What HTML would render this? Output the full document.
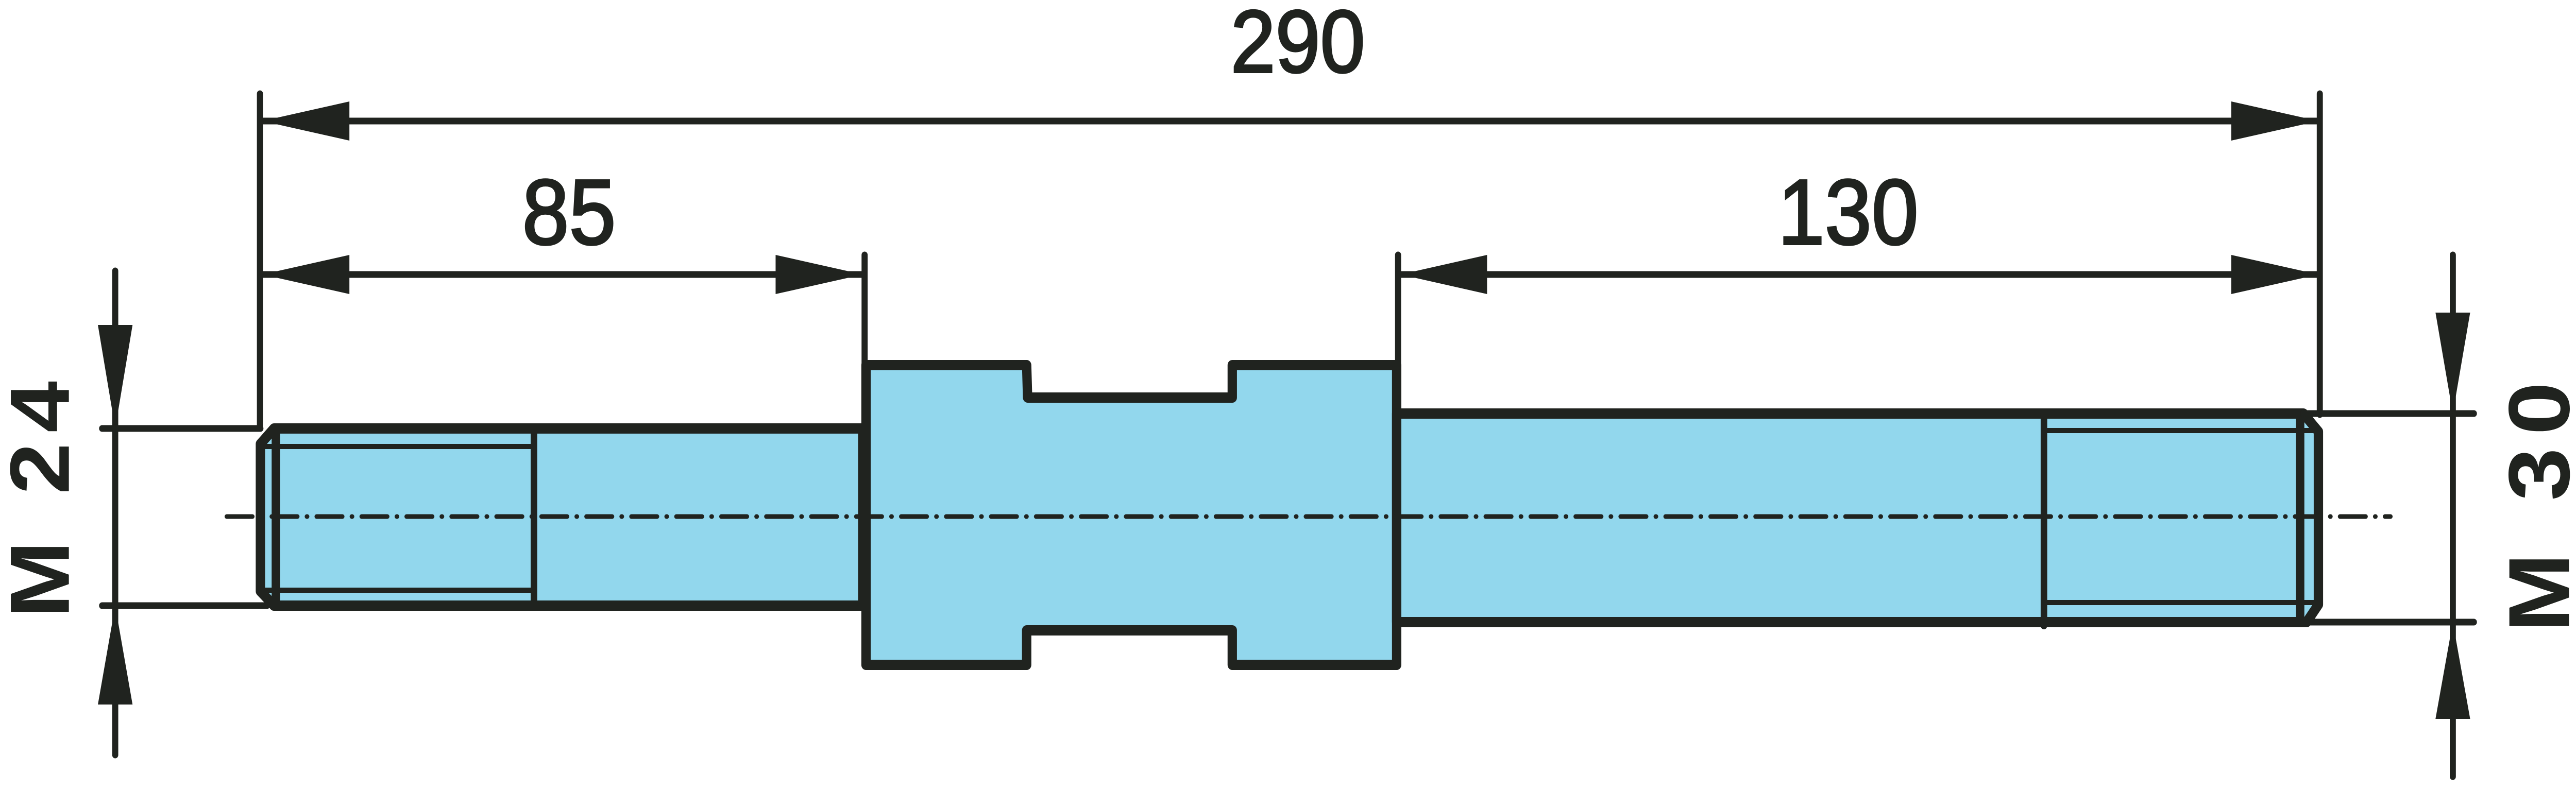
<!DOCTYPE html>
<html><head><meta charset="utf-8"><style>
html,body{margin:0;padding:0;background:#fff;width:100%;height:100%;overflow:hidden;}
svg{display:block;position:fixed;left:0;top:0;width:100vw;height:100vh;}
</style></head><body>
<svg viewBox="0 0 5500 1534" preserveAspectRatio="none" xmlns="http://www.w3.org/2000/svg">
<g stroke="#20231f" fill="none" stroke-linecap="round" stroke-linejoin="round">
<path d="M585,832 L1842,832 L1842,1176 L585,1176 L556,1148 L556,862 Z" fill="#92d7ed" stroke-width="20"/>
<line x1="589" y1="832" x2="589" y2="1176" stroke-width="18"/>
<line x1="556" y1="867" x2="1140" y2="867" stroke-width="10"/>
<line x1="556" y1="1146" x2="1140" y2="1146" stroke-width="10"/>
<line x1="1140" y1="832" x2="1140" y2="1176" stroke-width="14"/>
<path d="M1849,709 L2192,709 L2194,772 L2631,772 L2631,709 L2982,709 L2982,1291 L2631,1291 L2631,1224 L2192,1224 L2192,1291 L1849,1291 Z" fill="#92d7ed" stroke-width="20"/>
<path d="M2982,803 L4918,803 L4950,838 L4950,1174 L4925,1208 L2982,1208 Z" fill="#92d7ed" stroke-width="20"/>
<line x1="4911" y1="803" x2="4911" y2="1208" stroke-width="18"/>
<line x1="4364" y1="836" x2="4950" y2="836" stroke-width="10"/>
<line x1="4364" y1="1170" x2="4950" y2="1170" stroke-width="10"/>
<line x1="4364" y1="803" x2="4364" y2="1215" stroke-width="14"/>
<line x1="484" y1="1003" x2="5104" y2="1003" stroke-width="9" stroke-dasharray="55 20 1 20"/>
<g stroke-width="13">
<line x1="555" y1="182" x2="555" y2="832"/>
<line x1="4953" y1="182" x2="4953" y2="805"/>
<line x1="1846" y1="495" x2="1846" y2="712"/>
<line x1="2985" y1="495" x2="2985" y2="712"/>
<line x1="218" y1="832" x2="556" y2="832"/>
<line x1="218" y1="1176" x2="570" y2="1176"/>
<line x1="4918" y1="803" x2="5282" y2="803"/>
<line x1="4918" y1="1208" x2="5282" y2="1208"/>
<line x1="560" y1="235" x2="4950" y2="235"/>
<line x1="560" y1="533" x2="1842" y2="533"/>
<line x1="2990" y1="533" x2="4950" y2="533"/>
<line x1="246" y1="526" x2="246" y2="1466"/>
<line x1="5237" y1="495" x2="5237" y2="1508"/>
</g>
</g>
<g fill="#20231f">
<polygon points="560,235 746,197 746,273"/>
<polygon points="4950,235 4764,197 4764,273"/>
<polygon points="560,533 746,495 746,571"/>
<polygon points="1842,533 1656,495 1656,571"/>
<polygon points="2990,533 3175,495 3175,571"/>
<polygon points="4950,533 4764,495 4764,571"/>
<polygon points="246,832 209,631 283,631"/>
<polygon points="246,1176 209,1368 283,1368"/>
<polygon points="5237,803 5200,607 5274,607"/>
<polygon points="5237,1208 5200,1396 5274,1396"/>
</g>
<g fill="#20231f" stroke="#20231f" stroke-width="4" font-family="Liberation Sans, sans-serif">
<text x="2771" y="140" font-size="172" text-anchor="middle">290</text>
<text x="1215" y="474" font-size="180" text-anchor="middle">85</text>
<text x="3946" y="474" font-size="180" text-anchor="middle">130</text>
</g>
<g fill="#20231f" font-family="Liberation Sans, sans-serif" font-weight="bold">
<text transform="translate(147,1200) rotate(-90)" font-size="180" letter-spacing="20">M 24</text>
<text transform="translate(5485,1228) rotate(-90)" font-size="185" letter-spacing="25">M 30</text>
</g>
</svg>
</body></html>
